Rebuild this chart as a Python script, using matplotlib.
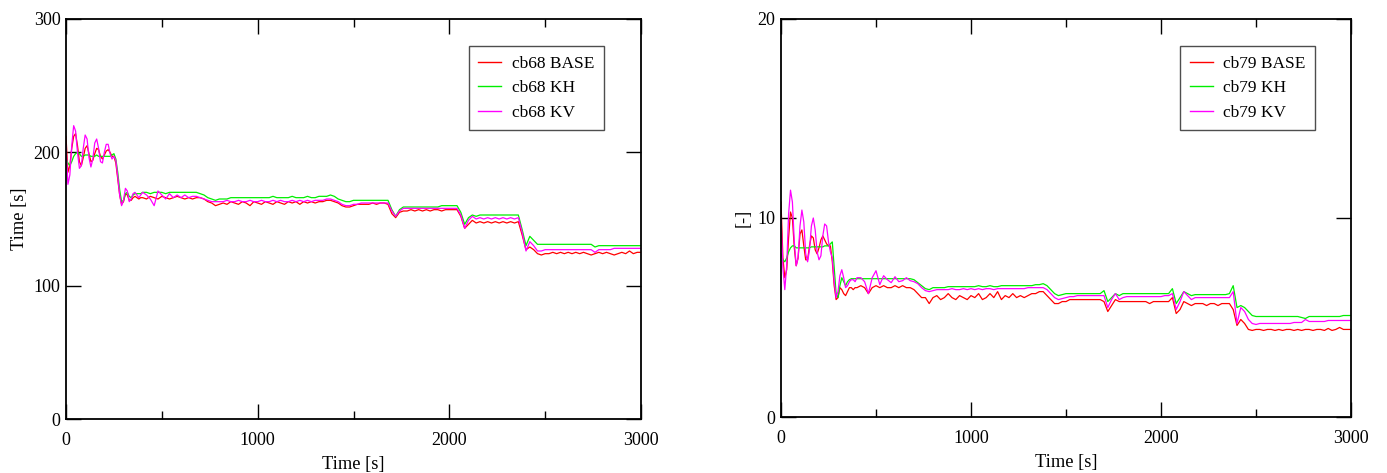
import matplotlib
matplotlib.use("Agg")
import matplotlib.pyplot as plt
from matplotlib.ticker import MultipleLocator

plt.rcParams['font.family'] = ['Liberation Serif', 'DejaVu Serif']

# ---------------- time grid ----------------
time_early = list(range(0, 400, 10))      # 0 .. 390 s
time_late = list(range(400, 3001, 20))    # 400 .. 3000 s
time = time_early + time_late

# ---------------- left panel (cb68) ----------------
cb68_base = [
    212, 185, 190, 203, 212, 214, 205, 193, 190, 196,
    203, 205, 199, 193, 194, 199, 203, 202, 197, 195,
    198, 201, 202, 200, 197, 197, 192, 180, 168, 161,
    163, 169, 168, 164, 164, 166, 167, 166, 165, 166,
    # 400 ..
    166, 165, 167, 166, 165, 167, 166, 165, 166, 167,
    166, 165, 166, 165, 166, 166, 165, 163, 162, 160,
    161, 162, 161, 163, 162, 161, 163, 162, 160, 163,
    162, 161, 163, 162, 161, 163, 162, 161, 163, 162,
    163, 161, 163, 162, 163, 162, 163, 163, 164, 164,
    163, 162, 160, 159, 159, 160, 161, 161, 161, 161,
    162, 161, 162, 162, 161, 154, 151, 155, 156, 156,
    157, 156, 157, 156, 157, 156, 157, 157, 156, 157,
    157, 157, 157, 152, 143, 146, 149, 147, 148, 147,
    148, 147, 148, 147, 148, 147, 148, 147, 148, 138,
    127, 129, 127, 124, 123, 124, 124, 125, 124, 125,
    124, 125, 124, 125, 124, 125, 124, 123, 124, 125,
    124, 125, 124, 123, 124, 125, 124, 126, 124, 125,
    125,
]
cb68_kh = [
    195, 192, 190, 193, 197, 199, 200, 199, 197, 197,
    198, 198, 198, 197, 197, 197, 198, 197, 197, 197,
    197, 197, 197, 197, 198, 199, 195, 185, 172, 163,
    164, 169, 170, 167, 166, 168, 169, 169, 169, 169,
    # 400 ..
    170, 170, 169, 170, 170, 170, 169, 170, 170, 170,
    170, 170, 170, 170, 170, 169, 168, 166, 165, 164,
    165, 165, 165, 166, 166, 166, 166, 166, 166, 166,
    166, 166, 166, 166, 167, 166, 166, 166, 166, 167,
    166, 166, 166, 167, 166, 166, 167, 167, 167, 168,
    167, 165, 164, 163, 163, 164, 164, 164, 164, 164,
    164, 164, 164, 164, 164, 157, 152, 157, 159, 159,
    159, 159, 159, 159, 159, 159, 159, 159, 160, 160,
    160, 160, 160, 155, 146, 151, 153, 152, 153, 153,
    153, 153, 153, 153, 153, 153, 153, 153, 153, 142,
    130, 137, 134, 131, 131, 131, 131, 131, 131, 131,
    131, 131, 131, 131, 131, 131, 131, 131, 129, 130,
    130, 130, 130, 130, 130, 130, 130, 130, 130, 130,
    130,
]
cb68_kv = [
    205, 176, 183, 205, 220, 216, 200, 188, 190, 203,
    213, 210, 196, 189, 195, 207, 210, 203, 193, 192,
    200, 206, 206, 199, 195, 197, 194, 182, 168, 160,
    164, 173, 171, 163, 165, 169, 170, 168, 166, 168,
    # 400 ..
    170, 168, 165, 160, 171, 168, 165, 169, 166, 168,
    166, 168, 166, 167, 167, 166, 165, 164, 163, 163,
    163, 163, 164, 163, 163, 164, 163, 163, 164, 163,
    163, 164, 163, 163, 164, 163, 164, 163, 163, 164,
    163, 164, 163, 164, 163, 164, 164, 164, 165, 165,
    164, 163, 161, 160, 160, 161, 161, 162, 162, 162,
    162, 162, 162, 162, 162, 156, 152, 156, 158, 158,
    158, 158, 158, 158, 158, 158, 158, 158, 158, 158,
    158, 158, 158, 153, 143, 149, 152, 150, 151, 150,
    151, 150, 151, 150, 151, 150, 151, 150, 151, 140,
    126, 133, 130, 126, 126, 127, 127, 127, 127, 127,
    127, 127, 127, 127, 127, 127, 127, 127, 125, 127,
    127, 127, 127, 128, 128, 128, 128, 128, 128, 128,
    128,
]

# ---------------- right panel (cb79) ----------------
cb79_base = [
    10.8, 8.0, 7.0, 7.4, 9.0, 10.3, 10.0, 8.5, 7.6, 8.0,
    9.2, 9.4, 8.6, 7.9, 7.9, 8.6, 9.1, 9.0, 8.4, 8.2,
    8.5, 8.9, 9.1, 8.9, 8.7, 8.6, 8.6, 7.8, 6.6, 5.9,
    6.0, 6.5, 6.4, 6.2, 6.1, 6.3, 6.5, 6.5, 6.4, 6.5,
    # 400 ..
    6.5, 6.6, 6.5, 6.2, 6.5, 6.6, 6.5, 6.6, 6.5, 6.5,
    6.6, 6.5, 6.6, 6.5, 6.5, 6.4, 6.2, 6.0, 6.0, 5.7,
    6.0, 6.1, 5.9, 6.0, 6.2, 6.0, 5.9, 6.1, 6.0, 5.9,
    6.1, 6.0, 6.2, 5.9, 6.0, 6.2, 6.0, 6.3, 5.9, 6.1,
    6.0, 6.2, 6.0, 6.1, 6.0, 6.1, 6.2, 6.2, 6.3, 6.3,
    6.1, 5.9, 5.7, 5.7, 5.8, 5.8, 5.9, 5.9, 5.9, 5.9,
    5.9, 5.9, 5.9, 5.9, 5.9, 5.8, 5.3, 5.6, 5.9, 5.8,
    5.8, 5.8, 5.8, 5.8, 5.8, 5.8, 5.8, 5.7, 5.8, 5.8,
    5.8, 5.8, 5.8, 6.0, 5.2, 5.4, 5.8, 5.7, 5.6, 5.7,
    5.7, 5.7, 5.6, 5.7, 5.7, 5.6, 5.7, 5.7, 5.7, 5.4,
    4.6, 4.9, 4.7, 4.4, 4.35, 4.4, 4.4, 4.35, 4.4, 4.4,
    4.35, 4.4, 4.35, 4.4, 4.4, 4.35, 4.4, 4.35, 4.4, 4.4,
    4.35, 4.4, 4.4, 4.35, 4.45, 4.35, 4.4, 4.5, 4.4, 4.4,
    4.4,
]
cb79_kh = [
    8.2, 7.9, 7.8, 8.0, 8.3, 8.5, 8.6, 8.6, 8.5, 8.5,
    8.5, 8.5, 8.5, 8.5, 8.5, 8.5, 8.55, 8.55, 8.55, 8.55,
    8.55, 8.55, 8.55, 8.6, 8.6, 8.6, 8.7, 8.8, 7.5, 6.2,
    6.0, 6.6, 7.0, 6.8, 6.6, 6.8, 6.9, 6.95, 6.95, 6.95,
    # 400 ..
    6.95, 6.95, 6.95, 6.95, 6.95, 6.95, 6.95, 6.95, 6.95, 6.95,
    6.95, 6.95, 6.95, 6.95, 6.95, 6.9, 6.75, 6.6, 6.45, 6.4,
    6.5, 6.5, 6.5, 6.5, 6.55, 6.55, 6.55, 6.55, 6.55, 6.55,
    6.55, 6.55, 6.6, 6.55, 6.55, 6.6, 6.55, 6.55, 6.6, 6.6,
    6.6, 6.6, 6.6, 6.6, 6.6, 6.6, 6.6, 6.65, 6.65, 6.7,
    6.6, 6.4, 6.2, 6.1, 6.15, 6.2, 6.2, 6.2, 6.2, 6.2,
    6.2, 6.2, 6.2, 6.2, 6.2, 6.35, 5.8, 6.0, 6.2, 6.1,
    6.2, 6.2, 6.2, 6.2, 6.2, 6.2, 6.2, 6.2, 6.2, 6.2,
    6.2, 6.2, 6.2, 6.45, 5.7, 6.0, 6.3, 6.2, 6.1, 6.15,
    6.15, 6.15, 6.15, 6.15, 6.15, 6.15, 6.15, 6.15, 6.2, 6.6,
    5.5, 5.6, 5.5, 5.3, 5.1, 5.05, 5.05, 5.05, 5.05, 5.05,
    5.05, 5.05, 5.05, 5.05, 5.05, 5.05, 5.05, 5.0, 4.95, 5.05,
    5.05, 5.05, 5.05, 5.05, 5.05, 5.05, 5.05, 5.05, 5.1, 5.1,
    5.1,
]
cb79_kv = [
    10.0, 7.5, 6.4, 7.6, 10.2, 11.4, 10.8, 8.8, 7.6, 8.0,
    9.6, 10.4, 9.8, 8.2, 7.8, 8.4, 9.6, 10.0, 9.4, 8.3,
    7.9, 8.1, 9.1, 9.7, 9.6, 8.8, 8.3, 8.0, 6.8, 6.0,
    6.3, 7.1, 7.4, 7.0, 6.5, 6.6, 6.8, 6.9, 6.9, 6.8,
    # 400 ..
    7.0, 7.0, 6.8, 6.2, 7.0, 7.35, 6.65, 7.1, 6.9, 6.75,
    7.05, 6.8, 6.85, 7.0, 6.85, 6.8, 6.7, 6.5, 6.35, 6.3,
    6.35, 6.4, 6.4, 6.4, 6.4, 6.45, 6.4, 6.4, 6.45, 6.4,
    6.45, 6.4, 6.45, 6.4, 6.45, 6.45, 6.4, 6.45, 6.45, 6.45,
    6.45, 6.45, 6.45, 6.45, 6.45, 6.5, 6.5, 6.5, 6.5, 6.5,
    6.4, 6.2, 6.0, 5.9, 5.95, 6.0, 6.05, 6.05, 6.1, 6.1,
    6.1, 6.1, 6.1, 6.1, 6.1, 6.1, 5.5, 5.9, 6.2, 5.9,
    6.0, 6.05, 6.05, 6.05, 6.05, 6.05, 6.05, 6.05, 6.05, 6.05,
    6.05, 6.1, 6.1, 6.2, 5.4, 5.8, 6.3, 6.1, 5.9, 6.0,
    6.0, 6.0, 6.0, 6.0, 6.0, 6.0, 6.0, 6.0, 6.0, 6.3,
    4.7, 5.5, 5.3, 4.9, 4.7, 4.65, 4.7, 4.7, 4.7, 4.7,
    4.7, 4.7, 4.7, 4.7, 4.7, 4.75, 4.75, 4.75, 4.9, 4.8,
    4.8, 4.8, 4.8, 4.8, 4.85, 4.85, 4.85, 4.85, 4.85, 4.85,
    4.85,
]

left_labels = ["cb68 BASE", "cb68 KH", "cb68 KV"]
right_labels = ["cb79 BASE", "cb79 KH", "cb79 KV"]
colors = ["#ff0000", "#00ee00", "#ff00ff"]

W, H = 1387, 473
fig = plt.figure(figsize=(W / 100, H / 100), dpi=100)
axL = fig.add_axes([66 / W, 1 - 419 / H, 575 / W, 400 / H])
axR = fig.add_axes([781 / W, 1 - 417 / H, 570 / W, 398 / H])

TICK_FS = 13
LAB_FS = 13.2
LEG_FS = 12.5


def style(ax, ymax, ystep, ylabel):
    ax.set_xlim(0, 3000)
    ax.set_ylim(0, ymax)
    ax.xaxis.set_major_locator(MultipleLocator(1000))
    ax.xaxis.set_minor_locator(MultipleLocator(500))
    ax.yaxis.set_major_locator(MultipleLocator(ystep))
    ax.tick_params(which='both', direction='in', top=True, right=True,
                   labelsize=TICK_FS, width=1.0, color='black')
    ax.tick_params(which='major', length=11)
    ax.tick_params(which='minor', length=6)
    ax.tick_params(axis='x', pad=9)
    ax.tick_params(axis='y', pad=4)
    for s in ax.spines.values():
        s.set_linewidth(1.3)
        s.set_color('black')
    ax.set_xlabel("Time [s]", fontsize=LAB_FS, labelpad=5.5)
    ax.set_ylabel(ylabel, fontsize=LAB_FS, labelpad=4)


for ser, lab, c in zip([cb68_base, cb68_kh, cb68_kv], left_labels, colors):
    axL.plot(time, ser, color=c, lw=0.9, label=lab)
for ser, lab, c in zip([cb79_base, cb79_kh, cb79_kv], right_labels, colors):
    axR.plot(time, ser, color=c, lw=0.9, label=lab)

style(axL, 300, 100, "Time [s]")
style(axR, 20, 10, "[-]")

for ax, anchor in [(axL, (0.70, 0.9325)), (axR, (0.70, 0.932))]:
    leg = ax.legend(loc='upper left', bbox_to_anchor=anchor, fontsize=LEG_FS,
                    frameon=True, fancybox=False, handlelength=1.35,
                    handletextpad=0.6, borderpad=0.55, labelspacing=0.48,
                    borderaxespad=0.0)
    fr = leg.get_frame()
    fr.set_edgecolor('#222222')
    fr.set_linewidth(1.0)
    for l in leg.get_lines():
        l.set_linewidth(1.0)

fig.savefig("out.png", dpi=100)
